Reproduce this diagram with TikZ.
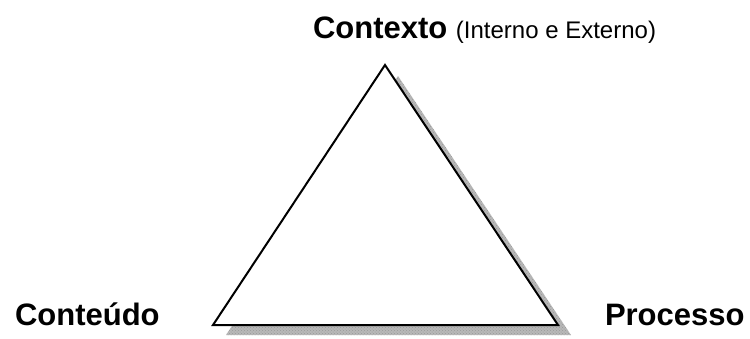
\documentclass[tikz,border=0pt]{standalone}
\usepackage{fontspec}
\setmainfont{Liberation Sans}
\usetikzlibrary{patterns}
\begin{document}
\begin{tikzpicture}[x=1pt,y=-1pt,
  lbl/.style={inner sep=0pt,outer sep=0pt,anchor=base west,font=\fontsize{31}{36}\selectfont\bfseries},
  shadowfill/.style={fill=black!28},
  tri/.style={draw=black,line width=2pt,line join=miter,fill=white}]
\useasboundingbox (0,0) rectangle (750,338);
% corners
\coordinate (top) at (385,65);
\coordinate (bl) at (213,325);
\coordinate (br) at (558,325);
\coordinate (stop) at (398,76);
\coordinate (sbl) at (226,335);
\coordinate (sbr) at (571,335);
% shadow
\fill[shadowfill] (stop) -- (sbr) -- (sbl) -- cycle;
\fill[pattern=crosshatch dots,pattern color=black!40] (stop) -- (sbr) -- (sbl) -- cycle;
% triangle
\draw[tri] (top) -- (br) -- (bl) -- cycle;
% labels
\node[lbl] (ctx) at (313,38.5) {Contexto\ \mdseries\fontsize{24}{28}\selectfont(Interno e Externo)};
\node[lbl] (cont) at (15,325) {Conteúdo};
\node[lbl] (proc) at (605,325) {Processo};
\end{tikzpicture}
\end{document}
